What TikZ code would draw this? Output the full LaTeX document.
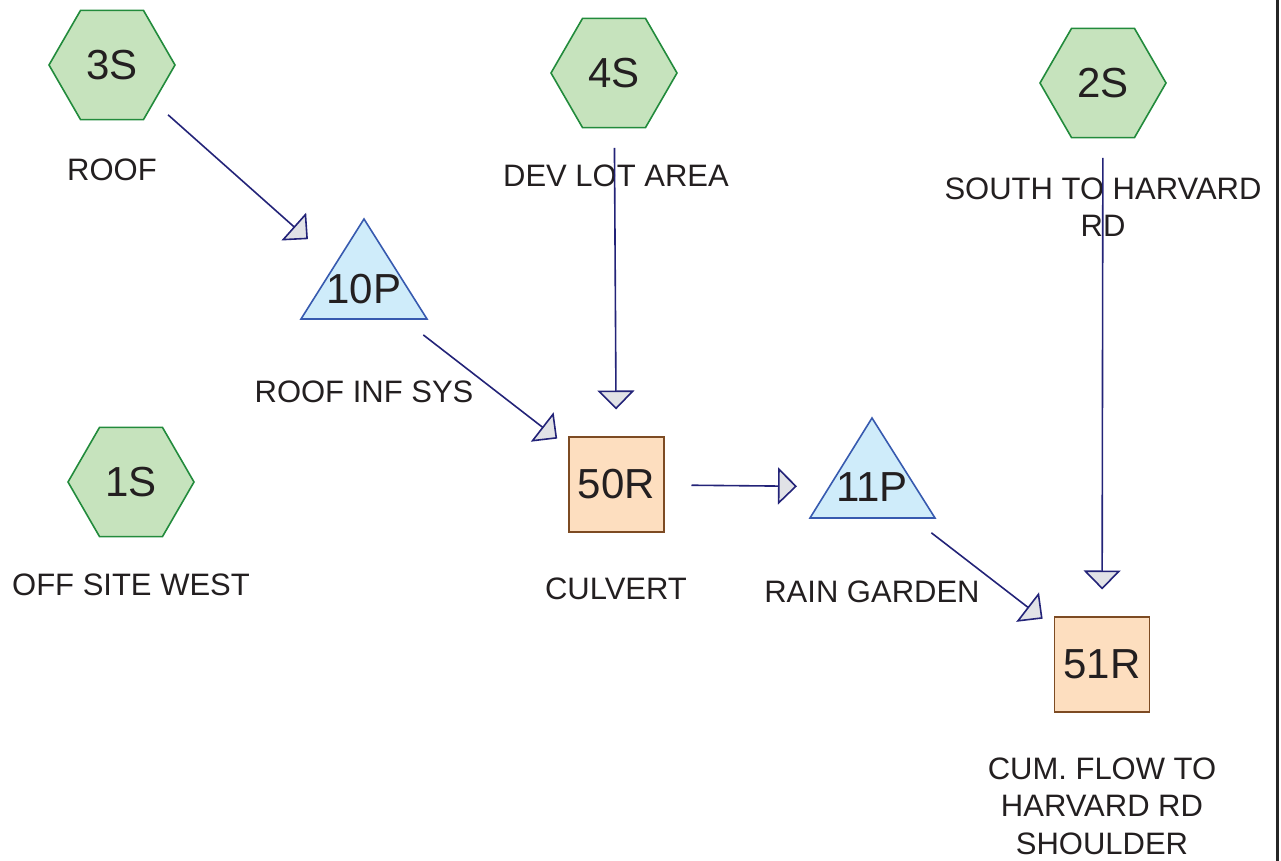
\documentclass[tikz,border=0pt]{standalone}
\usepackage{fontspec}
\setmainfont{Liberation Sans}
\usetikzlibrary{shapes.geometric,arrows.meta,calc}

\definecolor{subfill}{RGB}{198,227,189}
\definecolor{subline}{RGB}{34,139,60}
\definecolor{pondfill}{RGB}{207,236,250}
\definecolor{pondline}{RGB}{55,90,175}
\definecolor{reachfill}{RGB}{253,222,191}
\definecolor{reachline}{RGB}{125,75,35}
\definecolor{flowline}{RGB}{35,35,120}
\definecolor{tipgray}{RGB}{225,226,230}
\definecolor{inkgray}{RGB}{35,31,32}

\begin{document}
\begin{tikzpicture}[x=0.5pt,y=-0.5pt,
    nametext/.style={text=inkgray,inner sep=0pt,font=\fontsize{21}{25}\selectfont},
    areatext/.style={text=inkgray,inner sep=0pt,align=center,font=\fontsize{15.5}{18.75}\selectfont},
    subcat/.style={nametext,regular polygon,regular polygon sides=6,minimum size=63pt,draw=subline,fill=subfill,line width=0.8pt},
    reach/.style={nametext,rectangle,minimum size=47.5pt,draw=reachline,fill=reachfill,line width=0.8pt},
    pond/.style={draw=pondline,fill=pondfill,line width=0.8pt},
    runoff/.style={draw=flowline,line width=0.8pt,shorten <=37.5pt,shorten >=37.5pt,-{Triangle[length=9.5pt,width=18.5pt,fill=tipgray]}}]
    \useasboundingbox (0,0) rectangle (1281,861);
    % subcatchments
    \node[subcat] (n3S) at (112,65) {3S};
    \node[subcat] (n4S) at (614,73) {4S};
    \node[subcat] (n2S) at (1103,83) {2S};
    \node[subcat] (n1S) at (131,482) {1S};
    % ponds
    \filldraw[pond] (301,319) -- (364,219) -- (427,319) -- cycle;
    \node[nametext] (n10P) at (364,289) {10P};
    \filldraw[pond] (810,518) -- (872,418) -- (935,518) -- cycle;
    \node[nametext] (n11P) at (872,487) {11P};
    % reaches
    \node[reach] (n50R) at (616.5,484.5) {50R};
    \node[reach] (n51R) at (1102,664.5) {51R};
    % names under the nodes
    \node[areatext] (t3S) at (112,170) {ROOF};
    \node[areatext] (t4S) at (616,176) {DEV LOT AREA};
    \node[areatext] (t2S) at (1103,207) {SOUTH TO HARVARD\\RD};
    \node[areatext] (t10P) at (364,392) {ROOF INF SYS};
    \node[areatext] (t1S) at (131,585) {OFF SITE WEST};
    \node[areatext] (t50R) at (616,589) {CULVERT};
    \node[areatext] (t11P) at (872,592) {RAIN GARDEN};
    \node[areatext] (t51R) at (1102,806) {CUM. FLOW TO\\HARVARD RD\\SHOULDER};
    % links
    \draw[runoff] (n3S.center) -- (n10P.center);
    \draw[runoff] (n10P.center) -- (n50R.center);
    \draw[runoff] (n4S.center) -- (n50R.center);
    \draw[runoff] (n50R.center) -- (n11P.center);
    \draw[runoff] (n11P.center) -- (n51R.center);
    \draw[runoff] (n2S.center) -- (n51R.center);
    % page edge
    \draw[line width=1.5pt,black!85] (1277,0) -- (1277,861);
\end{tikzpicture}
\end{document}
